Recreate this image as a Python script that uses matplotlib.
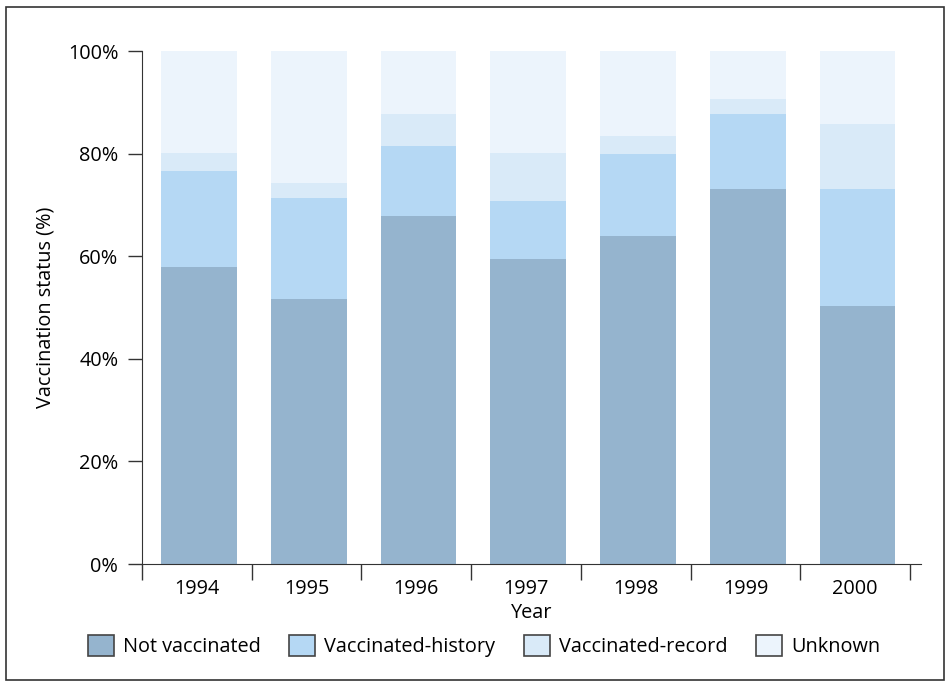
import numpy as np
import matplotlib.pyplot as plt
from matplotlib.patches import Rectangle

plt.rcParams['font.family'] = ['Open Sans', 'DejaVu Sans']

years = ['1994', '1995', '1996', '1997', '1998', '1999', '2000']
not_vacc = [57.9, 51.7, 67.8, 59.5, 63.9, 73.1, 50.3]
vacc_history = [18.7, 19.6, 13.7, 11.3, 16.0, 14.6, 22.8]
vacc_record = [3.5, 3.0, 6.2, 9.3, 3.5, 2.9, 12.7]
unknown = [19.9, 25.7, 12.3, 19.9, 16.6, 9.4, 14.2]

labels = ['Not vaccinated', 'Vaccinated-history', 'Vaccinated-record', 'Unknown']
colors = ['#95b4ce', '#b5d8f4', '#d9eaf8', '#ecf4fc']
series = [not_vacc, vacc_history, vacc_record, unknown]

fs = 14.3

fig = plt.figure(figsize=(9.51, 6.82), dpi=100)
ax = fig.add_axes([0.1493, 0.173, 0.8192, 0.7522])

x = np.arange(len(years))
bottom = np.zeros(len(years))
handles = []
for vals, c, lab in zip(series, colors, labels):
	ax.bar(x + 0.02, vals, bottom=bottom, width=0.69, color=c, linewidth=0)
	bottom += np.array(vals)
	handles.append(Rectangle((0, 0), 1, 1, facecolor=c, edgecolor='#444444', linewidth=1.2, label=lab))

ax.set_xlim(-0.5, 6.6)
ax.set_ylim(0, 100)
for s in ['top', 'right']:
	ax.spines[s].set_visible(False)
ax.spines['left'].set_color('#333333')
ax.spines['bottom'].set_color('#333333')

ax.set_yticks([0, 20, 40, 60, 80, 100])
ax.set_yticklabels(['0%', '20%', '40%', '60%', '80%', '100%'])
ax.tick_params(axis='y', length=10, width=1, color='#333333', pad=7, labelsize=fs)

ax.set_xticks(np.arange(-0.5, 7, 1))
ax.set_xticklabels([])
ax.tick_params(axis='x', which='major', length=11.5, width=1, color='#333333')
ax.set_xticks(x, minor=True)
ax.set_xticklabels(years, minor=True)
ax.tick_params(axis='x', which='minor', length=0, pad=11, labelsize=fs)

ax.set_ylabel('Vaccination status (%)', fontsize=fs, labelpad=9)
ax.set_xlabel('Year', fontsize=fs, labelpad=3)

fig.legend(handles=handles, loc='center', bbox_to_anchor=(484 / 951, 1 - 646 / 682), ncol=4,
	frameon=False, fontsize=fs, handlelength=1.3, handleheight=1.3, handletextpad=0.45,
	columnspacing=1.45)

fig.patches.append(Rectangle((6 / 951, 2 / 682), 938 / 951, 673 / 682, transform=fig.transFigure,
	fill=False, edgecolor='#333333', linewidth=1.2))

fig.savefig('out.png', dpi=100)
